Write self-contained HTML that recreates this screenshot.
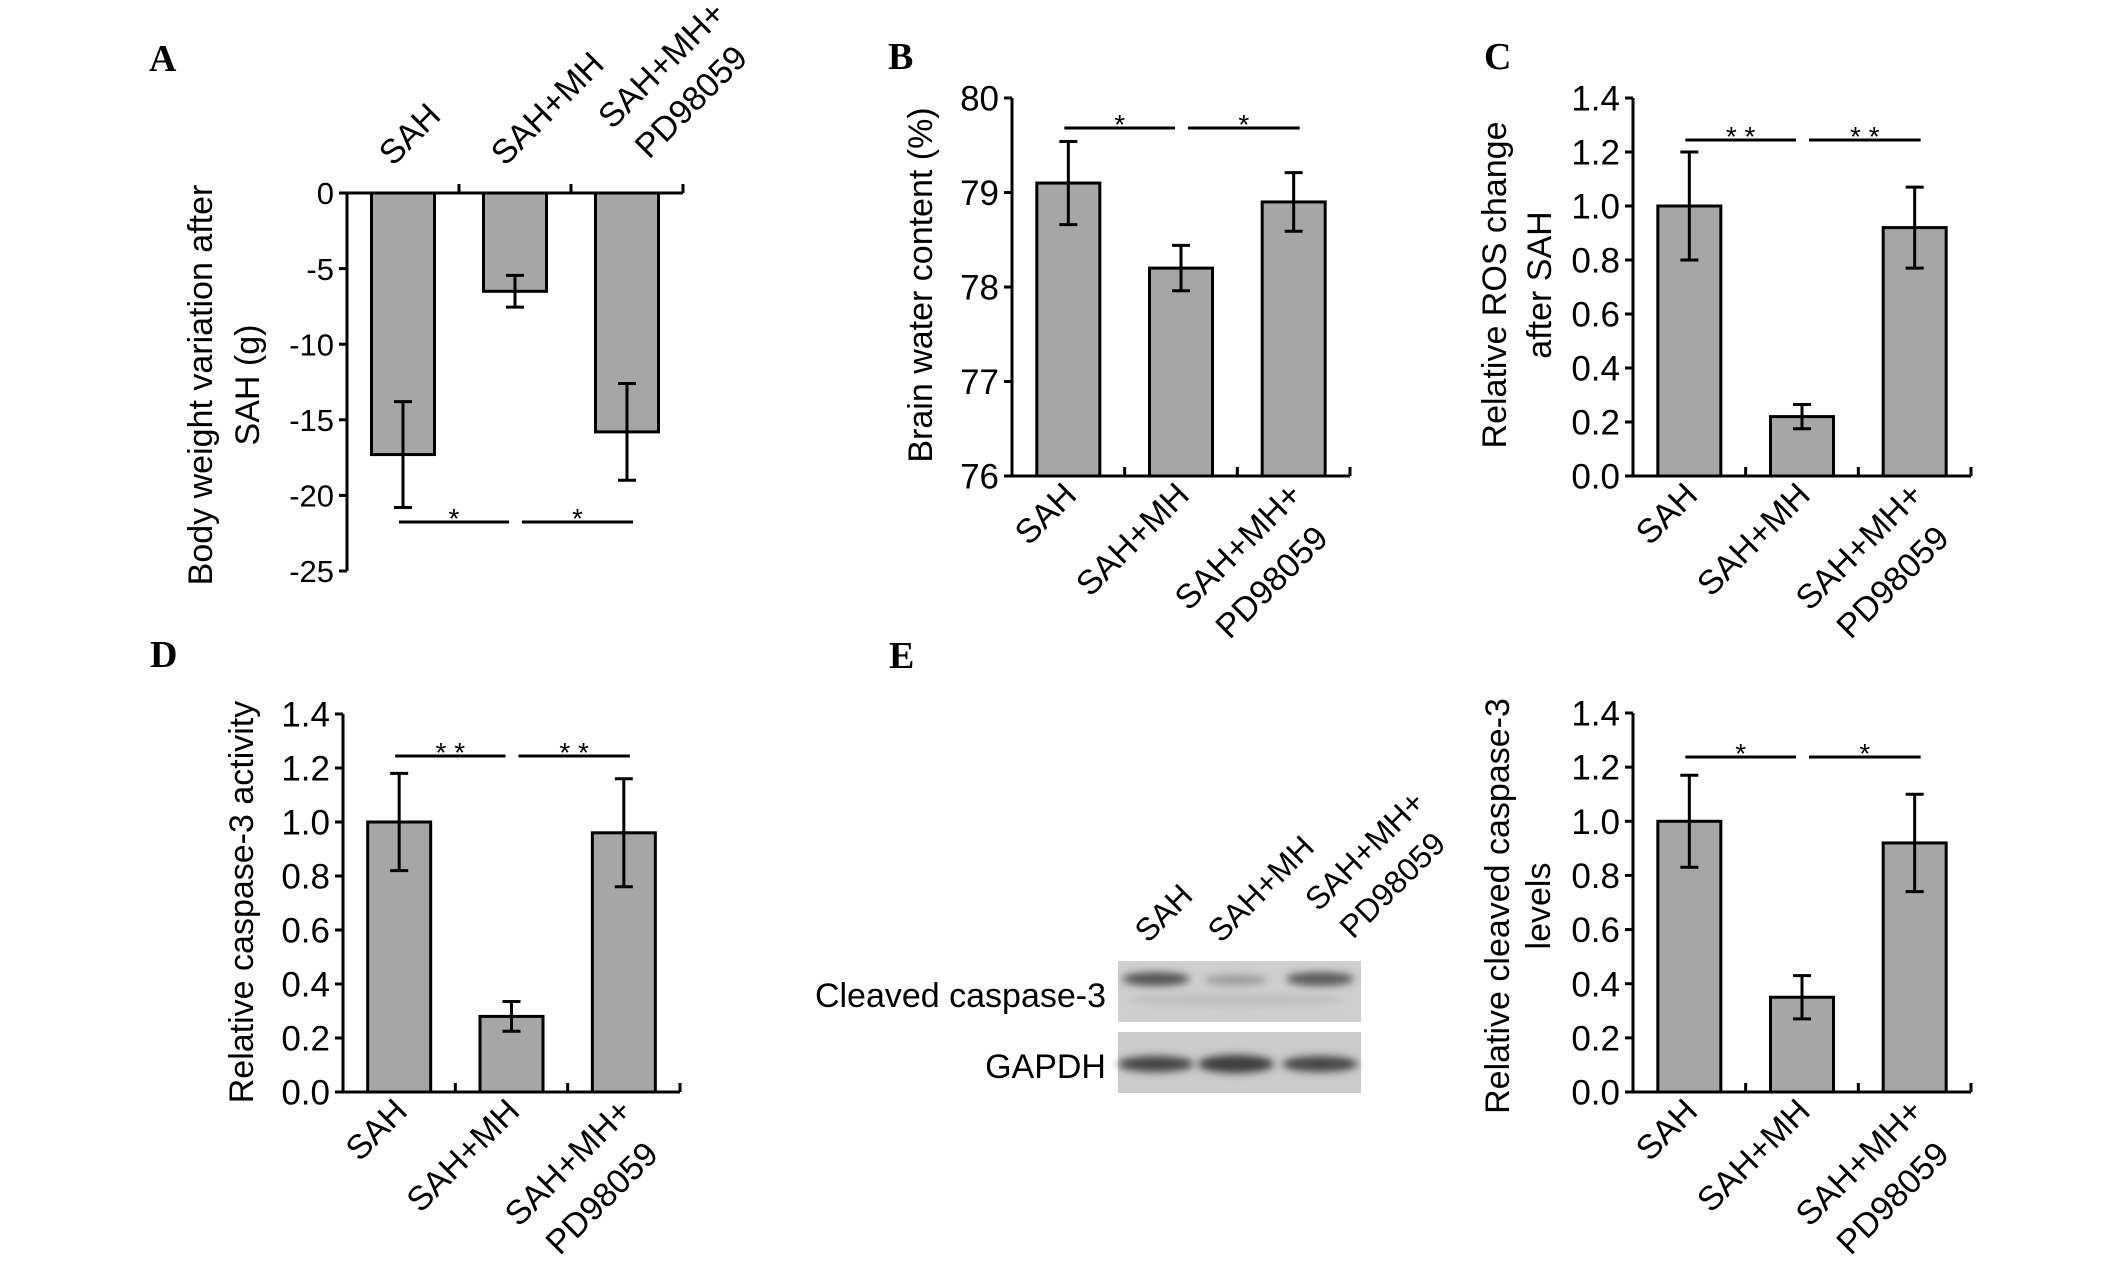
<!DOCTYPE html>
<html><head><meta charset="utf-8"><style>
html,body{margin:0;padding:0;background:#fff;}
svg{display:block;font-family:"Liberation Sans",Arial,sans-serif;}
</style></head><body>
<svg id="fig" width="2126" height="1272" viewBox="0 0 2126 1272" xmlns="http://www.w3.org/2000/svg">
<defs>
<filter id="blur" x="-20%" y="-50%" width="140%" height="200%"><feGaussianBlur stdDeviation="4"/></filter>
</defs>
<g id="labels" font-family="Liberation Serif, serif" font-weight="bold" font-size="38" fill="#000">
<text x="149" y="71">A</text>
<text x="888" y="69">B</text>
<text x="1484" y="69">C</text>
<text x="150" y="667">D</text>
<text x="889" y="668">E</text>
</g>
<g id="blot">
<rect x="1118" y="961" width="243" height="61" fill="#cfcfcf"/>
<rect x="1118" y="1032" width="243" height="61" fill="#cbcbcb"/>
<g filter="url(#blur)">
<ellipse cx="1156" cy="979" rx="34" ry="7" fill="#555"/>
<ellipse cx="1236" cy="980" rx="32" ry="5" fill="#9a9a9a"/>
<ellipse cx="1320" cy="979" rx="34" ry="7" fill="#5a5a5a"/>
<ellipse cx="1236" cy="1000" rx="110" ry="6" fill="#bdbdbd"/>
<ellipse cx="1156" cy="1064" rx="38" ry="8" fill="#444"/>
<ellipse cx="1236" cy="1064" rx="38" ry="9" fill="#3c3c3c"/>
<ellipse cx="1320" cy="1064" rx="38" ry="8" fill="#474747"/>
</g>
<text x="1106" y="1007" font-size="34" text-anchor="end">Cleaved caspase-3</text>
<text x="1106" y="1078" font-size="34" text-anchor="end">GAPDH</text>
<text font-size="32" transform="translate(1148,944) rotate(-45)">SAH</text>
<text font-size="32" transform="translate(1221,944) rotate(-45)">SAH+MH</text>
<text font-size="32" transform="translate(1353,940) rotate(-45)"><tspan x="-5" y="-44">SAH+MH+</tspan><tspan x="0" y="0">PD98059</tspan></text>
</g>
</svg>
<script>
const categories = ["SAH", "SAH+MH", "SAH+MH+|PD98059"];
const aValues = [-17.3, -6.5, -15.8];
const aErrors = [3.5, 1.05, 3.2];
const aTicks = [0, -5, -10, -15, -20, -25];
const bValues = [79.1, 78.2, 78.9];
const bErrors = [0.44, 0.24, 0.31];
const bTicks = [76, 77, 78, 79, 80];
const cValues = [1.0, 0.22, 0.92];
const cErrors = [0.2, 0.045, 0.15];
const cTicks = [0.0, 0.2, 0.4, 0.6, 0.8, 1.0, 1.2, 1.4];
const dValues = [1.0, 0.28, 0.96];
const dErrors = [0.18, 0.055, 0.2];
const dTicks = [0.0, 0.2, 0.4, 0.6, 0.8, 1.0, 1.2, 1.4];
const eValues = [1.0, 0.35, 0.92];
const eErrors = [0.17, 0.08, 0.18];
const eTicks = [0.0, 0.2, 0.4, 0.6, 0.8, 1.0, 1.2, 1.4];
const tickLabelsA = ["0", "-5", "-10", "-15", "-20", "-25"];
const tickLabelsB = ["76", "77", "78", "79", "80"];
const tickLabels14 = ["0.0", "0.2", "0.4", "0.6", "0.8", "1.0", "1.2", "1.4"];

const NS = "http://www.w3.org/2000/svg";
const svg = document.getElementById("fig");
function mk(tag, attrs, parent) {
  const el = document.createElementNS(NS, tag);
  for (const k in attrs) el.setAttribute(k, attrs[k]);
  (parent || svg).appendChild(el);
  return el;
}

function drawChart(cfg, values, errors, ticks, tickLabels) {
  const g = mk("g", {});
  
  
  const y = v => cfg.yTop + (cfg.vTop - v) / (cfg.vTop - cfg.vBot) * (cfg.yBot - cfg.yTop);
  const step = (cfg.xEnd - cfg.ax) / categories.length;
  const cx = i => cfg.ax + step * (i + 0.5);
  const baseY = y(cfg.base);
  values.forEach((v, i) => {
    const top = Math.min(y(v), baseY), h = Math.abs(y(v) - baseY);
    const r = mk("rect", {x: cx(i) - 31.5, y: top, width: 63, height: h, fill: "#a6a6a6", stroke: "#000", "stroke-width": 3}, g);
    
    
  });
  values.forEach((v, i) => {
    const e = errors[i];
    const eg = mk("g", {stroke: "#000", "stroke-width": 3}, g);
    
    
    mk("line", {x1: cx(i), x2: cx(i), y1: y(v + e), y2: y(v - e)}, eg);
    mk("line", {x1: cx(i) - 9, x2: cx(i) + 9, y1: y(v + e), y2: y(v + e)}, eg);
    mk("line", {x1: cx(i) - 9, x2: cx(i) + 9, y1: y(v - e), y2: y(v - e)}, eg);
  });
  const ya = mk("line", {x1: cfg.ax, x2: cfg.ax, y1: cfg.yTop, y2: cfg.yBot, stroke: "#000", "stroke-width": 3}, g);
  
  
  const xa = mk("line", {x1: cfg.ax - 8, x2: cfg.xEnd, y1: baseY, y2: baseY, stroke: "#000", "stroke-width": 3}, g);
  
  
  for (let i = 1; i <= categories.length; i++) {
    const tx = cfg.ax + step * i;
    mk("line", {x1: tx, x2: tx, y1: baseY, y2: baseY - 9, stroke: "#000", "stroke-width": 3}, g);
  }
  ticks.forEach((t, i) => {
    mk("line", {x1: cfg.ax - 8, x2: cfg.ax, y1: y(t), y2: y(t), stroke: "#000", "stroke-width": 3}, g);
    const tl = mk("text", {x: cfg.ax - 13, y: y(t) + cfg.tickFs * 0.36, "font-size": cfg.tickFs, "text-anchor": "end"}, g);
    tl.textContent = tickLabels[i];
    
    
  });
  categories.forEach((c, i) => {
    const parts = c.split("|");
    let t;
    if (cfg.top) {
      t = mk("text", {"font-size": 34, transform: "translate(" + (cx(i) + (parts.length > 1 ? 22 : -10)) + "," + (parts.length > 1 ? 160 : 167) + ") rotate(-45)"}, g);
      if (parts.length > 1) {
        mk("tspan", {x: -5, y: -47}, t).textContent = parts[0];
        mk("tspan", {x: 0, y: 0}, t).textContent = parts[1];
      } else t.textContent = parts[0];
    } else {
      t = mk("text", {"font-size": 34, "text-anchor": "end", transform: "translate(" + (cx(i) + 10) + "," + (baseY + 21) + ") rotate(-45)"}, g);
      if (parts.length > 1) {
        mk("tspan", {x: 0, y: 0}, t).textContent = parts[0];
        mk("tspan", {x: -12, y: 49}, t).textContent = parts[1];
      } else t.textContent = parts[0];
    }
    
    
  });
  const sig = [[cx(0) - 4, cx(1) - 6], [cx(1) + 7, cx(2) + 6]];
  sig.forEach((s, i) => {
    const l = mk("line", {x1: s[0], x2: s[1], y1: cfg.sigY, y2: cfg.sigY, stroke: "#000", "stroke-width": 3}, g);
    
    
    const st = mk("text", {x: (s[0] + s[1]) / 2, y: cfg.sigY + 6, "font-size": 28, "text-anchor": "middle"}, g);
    st.textContent = cfg.star;
    
    
  });
  cfg.title.forEach((line, i) => {
    const tt = mk("text", {"font-size": 34, "text-anchor": "middle", transform: "translate(" + cfg.titleX[i] + "," + cfg.titleY + ") rotate(-90)"}, g);
    tt.textContent = line;
    
    
  });
}

drawChart({id: "a", ax: 347, xEnd: 683, yTop: 193, yBot: 571, vTop: 0, vBot: -25, base: 0, top: true, tickFs: 31,
  sigY: 522, star: "*", title: ["Body weight variation after", "SAH (g)"], titleX: [212, 259], titleY: 385}, aValues, aErrors, aTicks, tickLabelsA);
drawChart({id: "b", ax: 1012, xEnd: 1350, yTop: 98, yBot: 476, vTop: 80, vBot: 76, base: 76, tickFs: 35,
  sigY: 128, star: "*", title: ["Brain water content (%)"], titleX: [932], titleY: 285}, bValues, bErrors, bTicks, tickLabelsB);
drawChart({id: "c", ax: 1633, xEnd: 1971, yTop: 98, yBot: 476, vTop: 1.4, vBot: 0, base: 0, tickFs: 35,
  sigY: 140, star: "* *", title: ["Relative ROS change", "after SAH"], titleX: [1506, 1551], titleY: 285}, cValues, cErrors, cTicks, tickLabels14);
drawChart({id: "d", ax: 343, xEnd: 680, yTop: 714, yBot: 1092, vTop: 1.4, vBot: 0, base: 0, tickFs: 35,
  sigY: 756, star: "* *", title: ["Relative caspase-3 activity"], titleX: [253], titleY: 902}, dValues, dErrors, dTicks, tickLabels14);
drawChart({id: "e", ax: 1633, xEnd: 1971, yTop: 713, yBot: 1092, vTop: 1.4, vBot: 0, base: 0, tickFs: 35,
  sigY: 757, star: "*", title: ["Relative cleaved caspase-3", "levels"], titleX: [1509, 1550], titleY: 906}, eValues, eErrors, eTicks, tickLabels14);
</script>
</body></html>
